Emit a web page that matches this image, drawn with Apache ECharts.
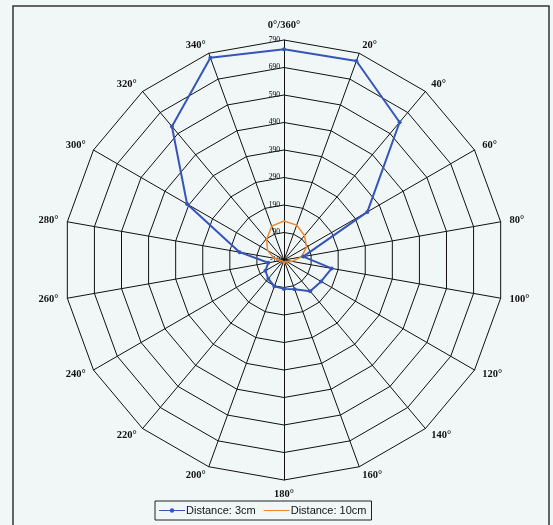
<!DOCTYPE html>
<html>
<head>
<meta charset="utf-8">
<script src="https://cdn.jsdelivr.net/npm/echarts@6/dist/echarts.min.js"></script>
<style>
  html, body { margin: 0; padding: 0; background: #f1f7f7; }
  #chart { width: 553px; height: 525px; }
</style>
</head>
<body>
<div id="chart"></div>
<script>
// Bearing of each spoke, in degrees clockwise from the top
const angles = [0, 20, 40, 60, 80, 100, 120, 140, 160, 180, 200, 220, 240, 260, 280, 300, 320, 340];
const angleLabels = ['0°/360°', '20°', '40°', '60°', '80°', '100°', '120°', '140°', '160°', '180°',
  '200°', '220°', '240°', '260°', '280°', '300°', '320°', '340°'];

// Measured distance response at each bearing
const dist3cm = [756, 760, 644, 340, 61, 166, 146, 138, 103, 95, 92, 79, 68, 48, 154, 397, 624, 773];
const dist10cm = [132, 125, 106, 85, 55, 19, 1, -3, -3, 5, -3, -3, -3, 1, 26, 59, 88, 121];

const seriesNames = ['Distance: 3cm', 'Distance: 10cm'];
const radialMin = -10;
const radialMax = 790;
const radialSplits = 8;

// Radar runs counter-clockwise, so walk the bearings in reverse after 0°
const order = [0].concat(angles.map((_, i) => i).slice(1).reverse());

const indicator = order.map((i, k) => ({
  name: angleLabels[i],
  min: radialMin,
  max: radialMax,
  axisLabel: { show: k === 0 }
}));

const pick = arr => order.map(i => arr[i]);

// Legend keys: a line with a dot, and a plain line (corner specks keep the box 8px tall)
const keyLineDot = 'path://M0 0L0.01 0Z M0 8L0.01 8Z M0 3.4H26V4.6H0Z M13 1.8A2.2 2.2 0 1 1 13 6.2A2.2 2.2 0 1 1 13 1.8Z';
const keyLine = 'path://M0 0L0.01 0Z M0 8L0.01 8Z M0 3.4H26V4.6H0Z';

const chart = echarts.init(document.getElementById('chart'), null, { renderer: 'canvas' });

chart.setOption({
  backgroundColor: '#f1f7f7',
  animation: false,
  graphic: [{
    type: 'rect',
    shape: { x: 13, y: 6, width: 536, height: 540 },
    style: { fill: 'none', stroke: '#333', lineWidth: 1.5 },
    silent: true
  }],
  legend: {
    data: [
      { name: seriesNames[0], icon: keyLineDot },
      { name: seriesNames[1], icon: keyLine }
    ],
    left: 155,
    top: 501,
    orient: 'horizontal',
    borderColor: '#222',
    borderWidth: 1,
    padding: [4, 5, 4, 4],
    itemGap: 8,
    itemWidth: 26,
    itemHeight: 8,
    textStyle: { fontFamily: 'Liberation Sans', fontSize: 11, color: '#111', padding: [0, 0, 0, -4] }
  },
  radar: {
    center: [284, 260],
    radius: 220,
    startAngle: 90,
    shape: 'polygon',
    splitNumber: radialSplits,
    indicator: indicator,
    axisName: {
      color: '#111',
      fontFamily: 'Liberation Serif',
      fontWeight: 'bold',
      fontSize: 10.5
    },
    nameGap: 9,
    axisLine: { lineStyle: { color: '#111', width: 1 } },
    splitLine: { lineStyle: { color: '#111', width: 1 } },
    splitArea: { show: false },
    axisTick: { show: false },
    axisLabel: {
      color: '#000',
      fontFamily: 'Liberation Serif',
      fontSize: 7.5,
      margin: 4
    }
  },
  series: [{
    type: 'radar',
    symbol: 'circle',
    symbolSize: 4,
    lineStyle: { color: '#3556b8', width: 2 },
    itemStyle: { color: '#3556b8' },
    data: [
      { name: seriesNames[0], value: pick(dist3cm) }
    ]
  }, {
    type: 'radar',
    symbol: 'none',
    lineStyle: { color: '#f0882e', width: 1.5 },
    itemStyle: { color: '#f0882e' },
    data: [
      { name: seriesNames[1], value: pick(dist10cm) }
    ]
  }]
});
</script>
</body>
</html>
